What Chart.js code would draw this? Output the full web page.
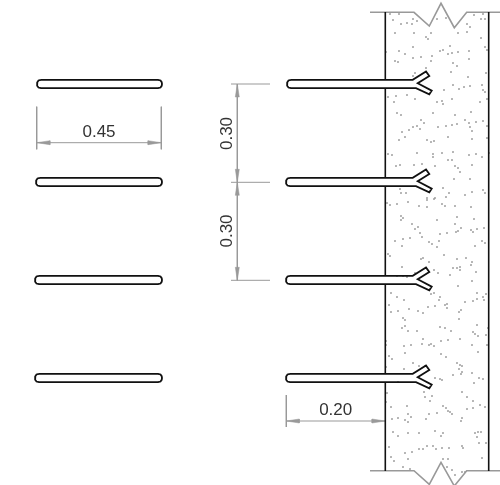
<!DOCTYPE html>
<html>
<head>
<meta charset="utf-8">
<title>Anchor spacing</title>
<script src="https://cdn.jsdelivr.net/npm/chart.js@4"></script>
<style>
  html, body { margin: 0; padding: 0; background: #fff; }
  canvas { display: block; }
</style>
</head>
<body>
<canvas id="drawing" width="500" height="485"></canvas>
<script>
// everything is in drawing units, 0-500 across and 0-485 down
const rowY = [84, 182, 280, 378];
const freeBarLeft = [37, 36, 35, 35];
const freeBarRight = [162, 162, 162, 162];
const anchorLeft = [287, 286, 286, 286];

const endCapX = [4, 1.5, 0.3, 0, 0.3, 1.5, 4];
const endCapY = [-4.2, -3.5, -1.8, 0, 1.8, 3.5, 4.2];
const hookX = [412.7, 426, 429.3, 417.7, 431.7, 429.3, 416];
const hookY = [-4.2, -12.6, -8, -0.7, 6.7, 10.3, 4.2];

const wallLeftX = 385.3;
const wallRightX = 488.7;
const wallLeftY = [12, 80, null, 88, 178, null, 186.5, 276, null, 285, 374, null, 382, 471];
const wallRightY = [12, 471];

const breakX = [370, 414, 429.3, 441, 454.3, 466.7, 500];
const breakTopY = [12.3, 12.3, 26, 3.3, 27.7, 12.3, 12.3];
const breakBottomY = [470.7, 470.7, 484.4, 462.3, 486, 470.7, 470.7];

const dotX = [390,399,393,401,407,413,412,417,395,414,426,428,431,437,446,467,470,458,467,481,474,483,481,485,399,405,413,386,395,398,413,421,432,431,440,443,450,448,452,458,469,453,457,469,485,487,426,415,413,451,468,486,482,483,485,453,459,464,470,444,388,396,407,415,394,437,442,443,452,480,487,397,401,433,455,471,421,424,402,409,413,417,420,405,399,427,431,434,438,446,452,457,465,469,470,472,476,483,487,448,472,487,388,392,417,433,442,453,469,476,482,489,396,400,414,422,433,435,448,452,455,458,460,472,454,470,400,401,406,443,449,465,472,483,485,427,435,
  387,390,397,408,419,427,427,434,446,442,445,455,471,401,403,401,437,457,474,412,418,415,420,422,455,461,458,456,447,440,471,473,477,484,395,403,410,429,432,439,437,402,475,482,485,388,390,444,421,423,429,457,466,472,471,476,402,434,438,453,457,460,460,450,403,397,407,415,472,458,391,397,404,431,434,440,439,477,486,483,477,473,465,484,389,447,445,447,428,435,409,418,423,391,398,461,459,403,405,459,405,402,408,417,440,445,451,477,488,473,475,478,486,386,386,423,422,441,448,460,404,411,429,431,434,472,487,405,441,478,446,389,392,
  386,404,413,419,425,457,460,462,459,462,461,472,453,479,483,474,435,440,442,398,387,425,432,424,430,462,467,473,480,485,391,386,407,443,446,448,450,452,467,473,408,411,398,405,408,392,429,437,426,462,461,393,398,408,419,435,443,441,475,478,481,477,479,486,389,405,412,419,423,427,433,436,442,449,462,463,408,391,394,403,410,482,443,448,447,452,462,465,455];
const dotY = [14,14,20,24,23,19,24,21,33,33,37,39,33,19,18,24,27,33,32,38,15,14,19,19,51,54,47,52,61,62,58,57,56,61,51,50,46,54,53,52,51,63,66,59,47,50,68,73,76,72,77,73,85,90,92,85,89,87,86,90,97,96,95,99,102,102,101,104,99,102,99,113,115,113,115,112,120,123,132,130,127,126,129,137,140,140,142,141,127,126,125,124,120,123,127,131,122,121,126,137,139,138,154,155,153,154,153,152,155,154,157,153,166,165,165,164,157,166,160,160,166,168,172,165,179,179,189,193,193,188,193,195,192,190,193,198,198,
  203,205,204,202,206,207,200,199,197,204,206,206,207,216,218,220,220,217,219,224,227,229,233,237,224,228,231,232,233,234,230,232,229,228,241,239,238,242,244,241,247,246,246,241,243,254,256,255,259,258,262,259,258,262,265,272,267,270,273,268,268,267,270,275,276,276,277,273,281,286,293,297,300,294,293,297,300,293,294,297,299,301,302,300,305,304,305,308,307,306,309,311,313,312,311,310,312,318,320,319,326,328,331,331,327,328,331,325,328,332,334,336,335,341,345,339,344,341,340,339,346,345,345,344,346,345,345,353,354,352,357,356,359,
  367,369,363,366,366,363,365,366,369,372,374,373,375,378,379,383,378,379,380,382,393,397,396,392,401,392,397,401,405,407,407,402,406,406,408,411,412,414,409,408,414,417,418,420,422,419,414,413,419,418,421,432,436,433,433,431,433,436,433,432,432,437,443,443,447,453,452,449,449,446,446,449,448,448,446,448,459,457,461,467,469,458,459,459,467,470,472,472,475];

// dimension lines: extension lines, the dimension line and its arrow heads
const extensionLines = [
  [[36.7, 106.7], [36.7, 149.3]],
  [[161.3, 106.7], [161.3, 149.3]],
  [[231, 84], [270, 84]],
  [[231, 182.3], [270, 182.3]],
  [[231, 280.3], [270, 280.3]],
  [[286.3, 395], [286.3, 427]]
];
const dimensionLines = [
  [[36.7, 142.7], [161.3, 142.7]],
  [[237.3, 84], [237.3, 280.3]],
  [[286.3, 421], [385, 421]]
];
const arrowHeads = [
  [[36.7, 142.7], [50, 140.7], [50, 144.7]],
  [[161.3, 142.7], [148, 140.7], [148, 144.7]],
  [[237.3, 84], [235.3, 97], [239.3, 97]],
  [[237.3, 182.3], [235.3, 169.3], [239.3, 169.3]],
  [[237.3, 182.3], [235.3, 195.3], [239.3, 195.3]],
  [[237.3, 280.3], [235.3, 267.3], [239.3, 267.3]],
  [[286.3, 421], [299.3, 419], [299.3, 423]],
  [[385, 421], [372, 419], [372, 423]]
];

const dimensionLabels = ['0.45', '0.30', '0.30', '0.20'];
const labelX = [99, 227, 227, 335.7];
const labelY = [132, 133.5, 231, 410];
const labelAngle = [0, -90, -90, 0];

const black = '#111111';
const grey = '#999999';

function toPoints(pairs) {
  return pairs.map(p => ({ x: p[0], y: p[1] }));
}

function lineSet(points, color, width) {
  return {
    type: 'scatter',
    data: points,
    showLine: true,
    fill: false,
    borderColor: color,
    borderWidth: width,
    pointRadius: 0,
    tension: 0,
    spanGaps: false
  };
}

function freeBar(i) {
  const y = rowY[i];
  const left = endCapX.map((dx, k) => ({ x: freeBarLeft[i] + dx, y: y + endCapY[k] }));
  const right = endCapX.map((dx, k) => ({ x: freeBarRight[i] - dx, y: y - endCapY[k] }));
  return left.concat(right, [left[0]]);
}

function anchor(i) {
  const y = rowY[i];
  const left = endCapX.map((dx, k) => ({ x: anchorLeft[i] + dx, y: y + endCapY[k] }));
  const hook = hookX.map((x, k) => ({ x: x, y: y + hookY[k] }));
  return left.concat(hook.reverse(), [left[0]]);
}

const datasets = [];

rowY.forEach((y, i) => {
  datasets.push(lineSet(freeBar(i), black, 1.8));
  datasets.push(lineSet(anchor(i), black, 1.8));
});

datasets.push(lineSet(wallLeftY.map(y => ({ x: wallLeftX, y: y })), black, 1.6));
datasets.push(lineSet(wallRightY.map(y => ({ x: wallRightX, y: y })), black, 1.6));

datasets.push(lineSet(breakX.map((x, i) => ({ x: x, y: breakTopY[i] })), grey, 1.6));
datasets.push(lineSet(breakX.map((x, i) => ({ x: x, y: breakBottomY[i] })), grey, 1.6));

extensionLines.forEach(l => datasets.push(lineSet(toPoints(l), grey, 1)));
dimensionLines.forEach(l => datasets.push(lineSet(toPoints(l), grey, 1)));
arrowHeads.forEach(a => {
  const head = lineSet(toPoints(a.concat([a[0]])), grey, 0.5);
  head.fill = 'shape';
  head.backgroundColor = grey;
  datasets.push(head);
});

datasets.push({
  type: 'scatter',
  data: dotX.map((x, i) => ({ x: x, y: dotY[i] })),
  pointRadius: 0.95,
  pointBorderWidth: 0,
  pointBackgroundColor: '#999999'
});

// the dimension text sits on the same scales as the lines
const labelPlugin = {
  id: 'dimensionText',
  afterDatasetsDraw(chart) {
    const ctx = chart.ctx;
    ctx.save();
    ctx.font = '17px "Liberation Sans", Arial, sans-serif';
    ctx.fillStyle = '#333333';
    ctx.textAlign = 'center';
    ctx.textBaseline = 'middle';
    dimensionLabels.forEach((text, i) => {
      ctx.save();
      ctx.translate(chart.scales.x.getPixelForValue(labelX[i]), chart.scales.y.getPixelForValue(labelY[i]));
      ctx.rotate(labelAngle[i] * Math.PI / 180);
      ctx.fillText(text, 0, 0);
      ctx.restore();
    });
    ctx.restore();
  }
};

new Chart(document.getElementById('drawing'), {
  type: 'scatter',
  data: { datasets: datasets },
  options: {
    responsive: false,
    animation: false,
    events: [],
    layout: { padding: 0, autoPadding: false },
    plugins: {
      legend: { display: false },
      tooltip: { enabled: false },
      filler: { propagate: false }
    },
    scales: {
      x: { type: 'linear', min: 0, max: 500, display: false },
      y: { type: 'linear', min: 0, max: 485, reverse: true, display: false }
    }
  },
  plugins: [labelPlugin]
});
</script>
</body>
</html>
